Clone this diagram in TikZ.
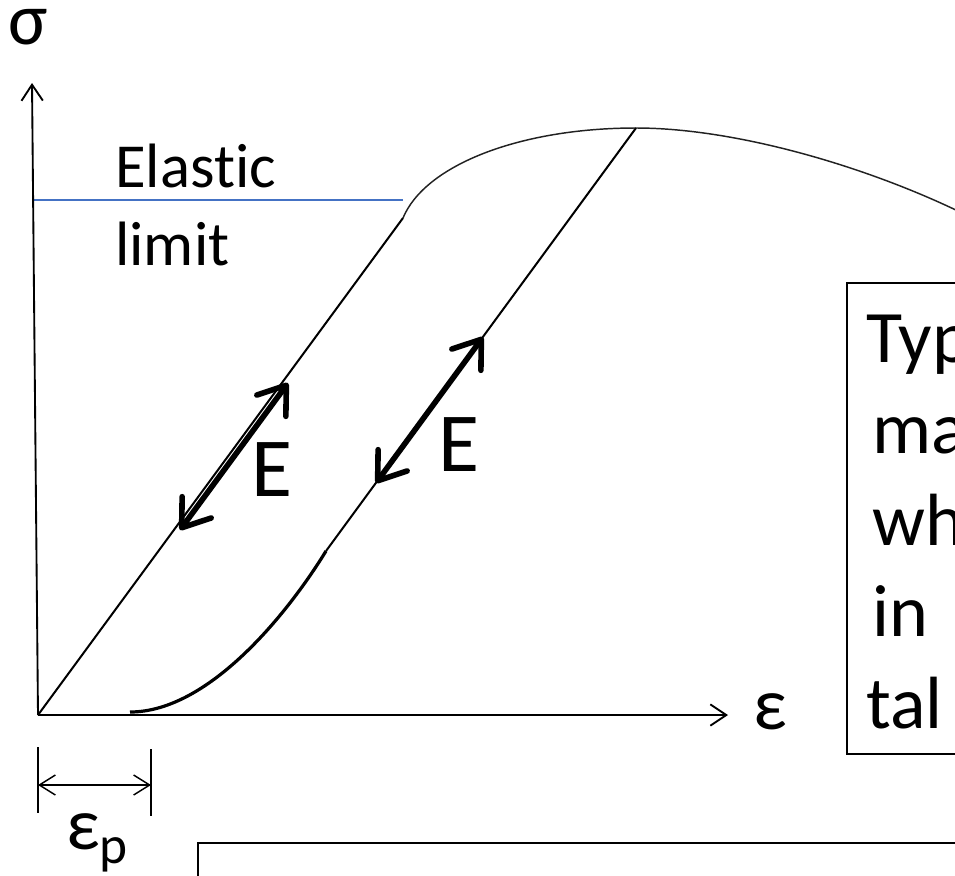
\documentclass[tikz,border=0pt]{standalone}
\usepackage{fontspec}
\setmainfont{Carlito}[Ligatures=NoCommon]
\usetikzlibrary{arrows.meta}
\definecolor{limitblue}{HTML}{4472C4}
\definecolor{curvegray}{HTML}{222222}
\tikzset{axis/.style={-{Straight Barb[length=12pt,width=16pt]},line width=1.4pt},dimarr/.style={{Straight Barb[length=12pt,width=15pt]}-{Straight Barb[length=12pt,width=15pt]},line width=1.1pt},loadline/.style={line width=1.5pt},topcurve/.style={line width=1.1pt,curvegray},reload/.style={line width=2.4pt},elim/.style={limitblue,line width=1.1pt},bigarr/.style={{Straight Barb[length=19pt,width=27pt,round]}-{Straight Barb[length=19pt,width=27pt,round]},line width=4.2pt,line cap=round},lbl/.style={font=\fontsize{55.5}{68}\selectfont,inner sep=0pt,anchor=base west},smalllbl/.style={font=\fontsize{47}{58}\selectfont,inner sep=0pt,anchor=base west},biglbl/.style={font=\fontsize{63}{77}\selectfont,inner sep=0pt,anchor=base west},textbox/.style={line width=1.4pt}}
\begin{document}
\begin{tikzpicture}[x=0.75pt,y=-0.75pt]
\useasboundingbox (0,0) rectangle (955,875);
\clip (0,0) rectangle (955,875);
\coordinate (O) at (38,715);
\coordinate (Y) at (403,218);
\coordinate (P) at (636,128);
\coordinate (R) at (326,551);
\coordinate (Q) at (130,712);
\coordinate (ytip) at (32,83);
\coordinate (xtip) at (728,715);
\draw[elim] (32,200) -- (403,200);
\draw[axis] (O) -- (ytip);
\draw[axis] (O) -- (xtip);
\draw[loadline] (O) -- (Y);
\draw[topcurve] (Y) .. controls (425,165) and (520,128) .. (P) .. controls (740,128) and (880,170) .. (980,222);
\draw[loadline] (P) -- (R);
\draw[reload] (R) .. controls (290,610) and (210,712) .. (Q);
\draw[bigarr] (180,530) -- (288,383);
\draw[bigarr] (376,483) -- (483,337);
\draw[loadline] (38,747) -- (38,813);
\draw[loadline] (151,749) -- (151,816);
\draw[dimarr] (38,785) -- (151,785);
\node[lbl,text height=.5em] (sigma) at (8,44) {σ};
\node[lbl] (eps) at (753,729) {ε};
\node[lbl,text depth=0pt] (epsp) at (66,849) {ε\raisebox{-.2em}{\fontsize{40}{44}\selectfont p}};
\node[smalllbl] (elastic) at (115,187) {Elastic};
\node[smalllbl] (limit) at (115,265) {limit};
\node[biglbl] (E1) at (251,496) {E};
\node[biglbl] (E2) at (438,471) {E};
\draw[textbox] (847,283) rectangle (1000,754);
\foreach \w/\dx [count=\i] in {Typ/0,ma/6,wh/6,in/6,tal/0}
  \node[lbl] (typ\i) at (866+\dx,{362+91.5*(\i-1)}) {\w};
\draw[textbox,line width=1.9pt] (198,843) rectangle (1000,950);
\end{tikzpicture}
\end{document}
